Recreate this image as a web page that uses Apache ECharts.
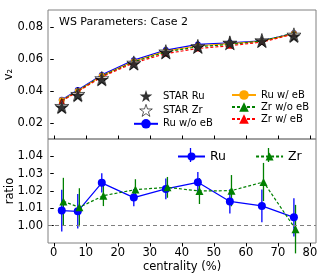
<!DOCTYPE html>
<html><head><meta charset="utf-8">
<script src="https://cdn.jsdelivr.net/npm/echarts@6/dist/echarts.min.js"></script>
<style>html,body{margin:0;padding:0;background:#fff}#c{width:320px;height:280px}</style>
</head><body><div id="c"></div>
<script>
// ---- data ----
const centrality = [2.5, 7.5, 15, 25, 35, 45, 55, 65, 75];
const zrRatioCentrality = [3, 8, 15.5, 25.5, 35.5, 45.5, 55.5, 65.5, 75.5];
const starRu = [0.0298, 0.0372, 0.0471, 0.0569, 0.0640, 0.0675, 0.0700, 0.0712, 0.0741];
const starZr = [0.0305, 0.0380, 0.0478, 0.0575, 0.0645, 0.0678, 0.0700, 0.0715, 0.0750];
const ruNoEB = [0.0345, 0.0405, 0.0500, 0.0592, 0.0655, 0.0690, 0.0700, 0.0712, 0.0760];
const ruEB   = [0.0342, 0.0400, 0.0495, 0.0585, 0.0648, 0.0682, 0.0695, 0.0710, 0.0758];
const zrNoEB = [0.0340, 0.0400, 0.0492, 0.0582, 0.0643, 0.0676, 0.0690, 0.0712, 0.0760];
const zrEB   = [0.0337, 0.0396, 0.0488, 0.0575, 0.0633, 0.0665, 0.0682, 0.0705, 0.0755];
const ruRatio = [1.0087, 1.0083, 1.0247, 1.0162, 1.0212, 1.0250, 1.0140, 1.0114, 1.0048];
const ruRatioErr = [0.012, 0.010, 0.0055, 0.005, 0.006, 0.006, 0.007, 0.0095, 0.011];
const zrRatio = [1.0140, 1.0106, 1.0173, 1.0208, 1.0221, 1.0200, 1.0202, 1.0252, 0.9980];
const zrRatioErr = [0.0136, 0.011, 0.006, 0.006, 0.006, 0.0075, 0.009, 0.011, 0.014];
const xTicks = [0, 10, 20, 30, 40, 50, 60, 70, 80];
const v2Ticks = [0.02, 0.04, 0.06, 0.08];
const ratioTicks = [1.00, 1.01, 1.02, 1.03, 1.04];

const FONT = 'DejaVu Sans';
const STAR = 'path://M50,0 L61.8,36.2 L100,36.2 L69.1,58.6 L80.9,95.1 L50,72.7 L19.1,95.1 L30.9,58.6 L0,36.2 L38.2,36.2 Z';
const pair = (xs, ys) => xs.map((x, i) => [x, ys[i]]);
const triple = (xs, ys, es) => xs.map((x, i) => [x, ys[i], es[i]]);

function errBar(color) {
  return function (params, api) {
    const x = api.value(0), y = api.value(1), e = api.value(2);
    const p1 = api.coord([x, y - e]), p2 = api.coord([x, y + e]);
    return { type: 'line', shape: { x1: p1[0], y1: p1[1], x2: p2[0], y2: p2[1] },
      style: { stroke: color, lineWidth: 1.3 } };
  };
}

const axisLabelStyle = { fontFamily: FONT, fontSize: 11.5, color: '#000' };

const chart = echarts.init(document.getElementById('c'), null, { renderer: 'canvas' });
chart.setOption({
  animation: false,
  textStyle: { fontFamily: FONT },
  title: { text: 'WS Parameters: Case 2', left: 59, top: 17, padding: 0,
    textStyle: { fontFamily: FONT, fontSize: 11, fontWeight: 'normal', color: '#000' } },
  grid: [
    { left: 48, top: 10, width: 268, height: 129, show: true, borderColor: '#808080', borderWidth: 1,
      backgroundColor: '#fff', outerBoundsMode: 'none', containLabel: false },
    { left: 48, top: 139, width: 268, height: 104, show: true, borderColor: '#808080', borderWidth: 1,
      backgroundColor: 'transparent', outerBoundsMode: 'none', containLabel: false }
  ],
  legend: [
    { orient: 'vertical', left: 133, top: 90, padding: 0, itemWidth: 24, itemHeight: 12, itemGap: 2,
      textStyle: { fontFamily: FONT, fontSize: 10, color: '#000' },
      data: [
        { name: 'STAR Ru', icon: STAR, itemStyle: { color: '#000', borderWidth: 0 } },
        { name: 'STAR Zr', icon: STAR, itemStyle: { color: '#fff', borderColor: '#000', borderWidth: 0.8 } },
        'Ru w/o eB'] },
    { orient: 'vertical', left: 231, top: 90, padding: 0, itemWidth: 24, itemHeight: 12, itemGap: 2,
      textStyle: { fontFamily: FONT, fontSize: 10, color: '#000' },
      data: ['Ru w/ eB', 'Zr w/o eB', 'Zr w/ eB'] },
    { orient: 'horizontal', left: 177, top: 150, padding: 0, itemWidth: 27, itemHeight: 10, itemGap: 29,
      textStyle: { fontFamily: FONT, fontSize: 12.5, color: '#000' },
      data: ['Ru', 'Zr'] }
  ],
  graphic: [
    { type: 'line', shape: { x1: 190.5, y1: 148, x2: 190.5, y2: 162 }, style: { stroke: '#0000ff', lineWidth: 1.3 }, z: 100 },
    { type: 'line', shape: { x1: 268.5, y1: 148, x2: 268.5, y2: 162 }, style: { stroke: '#008000', lineWidth: 1.3 }, z: 100 }
  ],
  xAxis: [
    { type: 'value', gridIndex: 0, min: -1.8, max: 81.9,
      axisLine: { show: false }, splitLine: { show: false },
      axisTick: { show: true, inside: true, length: 3.5, customValues: xTicks, lineStyle: { color: '#000' } },
      axisLabel: { show: false } },
    { type: 'value', gridIndex: 1, min: -1.8, max: 81.9,
      name: 'centrality (%)', nameLocation: 'middle', nameGap: 18, nameMoveOverlap: false,
      nameTextStyle: axisLabelStyle,
      axisLine: { show: false }, splitLine: { show: false },
      axisTick: { show: true, length: 3.5, customValues: xTicks, lineStyle: { color: '#000' } },
      axisLabel: Object.assign({ margin: 4, customValues: xTicks, formatter: v => String(v) }, axisLabelStyle) }
  ],
  yAxis: [
    { type: 'value', gridIndex: 0, min: 0.01, max: 0.0905,
      name: 'v₂', nameLocation: 'middle', nameGap: 33, nameMoveOverlap: false, nameTextStyle: axisLabelStyle,
      axisLine: { show: false }, splitLine: { show: false },
      axisTick: { show: true, length: 3.5, customValues: v2Ticks, lineStyle: { color: '#000' } },
      axisLabel: Object.assign({ margin: 5, customValues: v2Ticks, formatter: v => v.toFixed(2) }, axisLabelStyle) },
    { type: 'value', gridIndex: 1, min: 0.990, max: 1.050,
      name: 'ratio', nameLocation: 'middle', nameGap: 32, nameMoveOverlap: false, nameTextStyle: axisLabelStyle,
      axisLine: { show: false }, splitLine: { show: false },
      axisTick: { show: true, length: 3.5, customValues: ratioTicks, lineStyle: { color: '#000' } },
      axisLabel: Object.assign({ margin: 5, customValues: ratioTicks, formatter: v => v.toFixed(2) }, axisLabelStyle) }
  ],
  series: [
    { name: 'Ru w/o eB', type: 'line', xAxisIndex: 0, yAxisIndex: 0, data: pair(centrality, ruNoEB),
      color: '#0000ff', lineStyle: { width: 1.2, color: '#0000ff' }, symbol: 'circle', symbolSize: 6, z: 3 },
    { name: 'Ru w/ eB', type: 'line', xAxisIndex: 0, yAxisIndex: 0, data: pair(centrality, ruEB),
      color: '#ffa500', lineStyle: { width: 1.2, color: '#ffa500' }, symbol: 'circle', symbolSize: 6, z: 3 },
    { name: 'Zr w/o eB', type: 'line', xAxisIndex: 0, yAxisIndex: 0, data: pair(centrality, zrNoEB),
      color: '#008000', lineStyle: { width: 1.2, type: [3, 2], color: '#008000' }, symbol: 'triangle', symbolSize: 6, z: 4 },
    { name: 'Zr w/ eB', type: 'line', xAxisIndex: 0, yAxisIndex: 0, data: pair(centrality, zrEB),
      color: '#ff0000', lineStyle: { width: 1.2, type: [3, 2], color: '#ff0000' }, symbol: 'triangle', symbolSize: 6, z: 4 },
    { name: 'STAR Zr', type: 'scatter', xAxisIndex: 0, yAxisIndex: 0, data: pair(centrality, starZr),
      symbol: STAR, symbolSize: 14, itemStyle: { color: '#fff', borderColor: '#000', borderWidth: 0.8 }, z: 5 },
    { name: 'STAR Ru', type: 'scatter', xAxisIndex: 0, yAxisIndex: 0, data: pair(centrality, starRu),
      symbol: STAR, symbolSize: 14, itemStyle: { color: '#000' }, z: 6 },

    { name: 'Ru', type: 'line', xAxisIndex: 1, yAxisIndex: 1, data: pair(centrality, ruRatio),
      color: '#0000ff', lineStyle: { width: 1.2, color: '#0000ff' }, symbol: 'circle', symbolSize: 8, z: 4,
      markLine: { silent: true, symbol: 'none', label: { show: false },
        lineStyle: { color: '#808080', type: [4, 3], width: 1.2 }, data: [{ yAxis: 1.0 }] } },
    { name: 'Ru err', type: 'custom', xAxisIndex: 1, yAxisIndex: 1, data: triple(centrality, ruRatio, ruRatioErr),
      renderItem: errBar('#0000ff'), encode: { x: 0, y: 1 }, z: 3 },
    { name: 'Zr', type: 'line', xAxisIndex: 1, yAxisIndex: 1, data: pair(zrRatioCentrality, zrRatio),
      color: '#008000', lineStyle: { width: 1.2, type: [3, 2], color: '#008000' }, symbol: 'triangle', symbolSize: 8, z: 4 },
    { name: 'Zr err', type: 'custom', xAxisIndex: 1, yAxisIndex: 1, data: triple(zrRatioCentrality, zrRatio, zrRatioErr),
      renderItem: errBar('#008000'), encode: { x: 0, y: 1 }, z: 3 }
  ]
});
</script></body></html>
